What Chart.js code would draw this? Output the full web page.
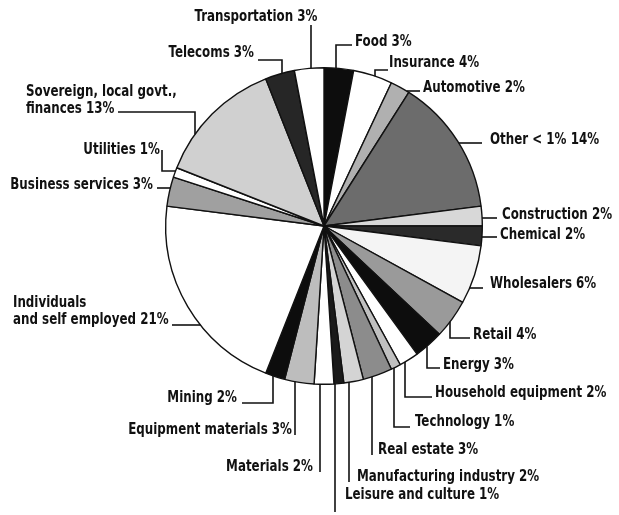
<!DOCTYPE html>
<html>
<head>
<meta charset="utf-8">
<script src="https://cdn.jsdelivr.net/npm/chart.js@4"></script>
<style>
    html, body { margin: 0; padding: 0; background: #fff; }
    canvas { display: block; }
</style>
</head>
<body>
<canvas id="pieChart" width="619" height="515"></canvas>
<script>
// Sectors, clockwise from 12 o'clock
var sectors = ['Food', 'Insurance', 'Automotive', 'Other < 1%', 'Construction', 'Chemical',
    'Wholesalers', 'Retail', 'Energy', 'Household equipment', 'Technology', 'Real estate',
    'Manufacturing industry', 'Leisure and culture', 'Materials', 'Equipment materials', 'Mining',
    'Individuals\nand self employed', 'Business services', 'Utilities',
    'Sovereign, local govt.,\nfinances', 'Telecoms', 'Transportation'];
var shares = [3, 4, 2, 14, 2, 2, 6, 4, 3, 2, 1, 3, 2, 1, 2, 3, 2, 21, 3, 1, 13, 3, 3];

var fills = ['#0d0d0d', '#ffffff', '#b0b0b0', '#6c6c6c', '#d8d8d8', '#2a2a2a',
    '#f4f4f4', '#9a9a9a', '#0d0d0d', '#ffffff', '#c0c0c0', '#8c8c8c',
    '#d4d4d4', '#1a1a1a', '#ffffff', '#bdbdbd', '#0d0d0d',
    '#ffffff', '#a0a0a0', '#ffffff', '#d0d0d0', '#262626', '#ffffff'];

// label placement: text anchor + leader elbow; last leg snaps onto the pie rim
// snap 'v' = vertical leg at last point's x, 'h' = horizontal leg at last point's y
var placement = [
    { x: 355, y: 42, align: 'left', path: [[352, 45], [336, 45]], snap: 'v' },
    { x: 389, y: 63, align: 'left', path: [[388, 70], [375, 70]], snap: 'v' },
    { x: 423, y: 88, align: 'left', path: [[420, 91]], snap: 'h' },
    { x: 490, y: 140, align: 'left', path: [[482, 143]], snap: 'h' },
    { x: 502, y: 215, align: 'left', path: [[497, 218]], snap: 'h' },
    { x: 500, y: 235, align: 'left', path: [[497, 237]], snap: 'h' },
    { x: 490, y: 284, align: 'left', path: [[483, 288]], snap: 'h' },
    { x: 473, y: 335, align: 'left', path: [[470, 338], [450, 338]], snap: 'v' },
    { x: 443, y: 365, align: 'left', path: [[440, 368], [427, 368]], snap: 'v' },
    { x: 435, y: 393, align: 'left', path: [[432, 397], [405, 397]], snap: 'v' },
    { x: 415, y: 422, align: 'left', path: [[410, 427], [394, 427]], snap: 'v' },
    { x: 378, y: 450, align: 'left', path: [[372, 455]], snap: 'v' },
    { x: 357, y: 477, align: 'left', path: [[349, 482]], snap: 'v' },
    { x: 345, y: 495, align: 'left', path: [[335, 512]], snap: 'v' },
    { x: 313, y: 467, align: 'right', path: [[320, 472]], snap: 'v' },
    { x: 292, y: 430, align: 'right', path: [[295, 435]], snap: 'v' },
    { x: 237, y: 398, align: 'right', path: [[242, 403], [273, 403]], snap: 'v' },
    { x: 13, y: 303, align: 'left', path: [[172, 325]], snap: 'h' },
    { x: 153, y: 185, align: 'right', path: [[157, 188]], snap: 'h' },
    { x: 160, y: 150, align: 'right', path: [[162, 150], [162, 171]], snap: 'h' },
    { x: 26, y: 92, align: 'left', path: [[118, 112], [195, 112]], snap: 'v' },
    { x: 254, y: 53, align: 'right', path: [[258, 60], [282, 60]], snap: 'v' },
    { x: 256, y: 17, align: 'center', path: [[311, 25]], snap: 'v' }
];

var labelFont = "bold 15px 'Liberation Sans Narrow', 'DejaVu Sans Condensed', 'Arial Narrow', sans-serif";
var squeeze = 0.88; // condensed look of the printed labels

// Leader lines and labels drawn after the pie
var leaderLabels = {
    id: 'leaderLabels',
    afterDraw: function(chart) {
        var ctx = chart.ctx;
        var arcs = chart.getDatasetMeta(0).data;
        ctx.save();
        ctx.strokeStyle = '#111';
        ctx.lineWidth = 1.6;
        ctx.fillStyle = '#111';
        ctx.font = labelFont;
        ctx.textBaseline = 'middle';

        arcs.forEach(function(arc, i) {
            var p = placement[i];
            var cx = arc.x, cy = arc.y, r = arc.outerRadius;
            var mid = (arc.startAngle + arc.endAngle) / 2;
            var last = p.path[p.path.length - 1];
            var end;
            if (p.snap === 'v') {
                var dx = last[0] - cx;
                var dy = Math.sqrt(Math.max(r * r - dx * dx, 0));
                end = [last[0], Math.sin(mid) < 0 ? cy - dy : cy + dy];
            } else {
                var dy2 = last[1] - cy;
                var dx2 = Math.sqrt(Math.max(r * r - dy2 * dy2, 0));
                end = [Math.cos(mid) < 0 ? cx - dx2 : cx + dx2, last[1]];
            }
            ctx.beginPath();
            ctx.moveTo(p.path[0][0], p.path[0][1]);
            for (var k = 1; k < p.path.length; k++) ctx.lineTo(p.path[k][0], p.path[k][1]);
            ctx.lineTo(end[0], end[1]);
            ctx.stroke();

            var lines = (chart.data.labels[i] + ' ' + shares[i] + '%').split('\n');
            ctx.textAlign = p.align;
            lines.forEach(function(line, j) {
                ctx.save();
                ctx.translate(p.x, p.y + j * 17);
                ctx.scale(squeeze, 1);
                ctx.fillText(line, 0, 0);
                ctx.restore();
            });
        });
        ctx.restore();
    }
};

var chart = new Chart(document.getElementById('pieChart'), {
    type: 'pie',
    data: {
        labels: sectors,
        datasets: [{
            data: shares,
            backgroundColor: fills,
            borderColor: '#111',
            borderWidth: 1.4
        }]
    },
    options: {
        responsive: false,
        animation: false,
        layout: { padding: { left: 165, right: 136, top: 67, bottom: 130 } },
        plugins: {
            legend: { display: false },
            tooltip: { enabled: false }
        }
    },
    plugins: [leaderLabels]
});
</script>
</body>
</html>
